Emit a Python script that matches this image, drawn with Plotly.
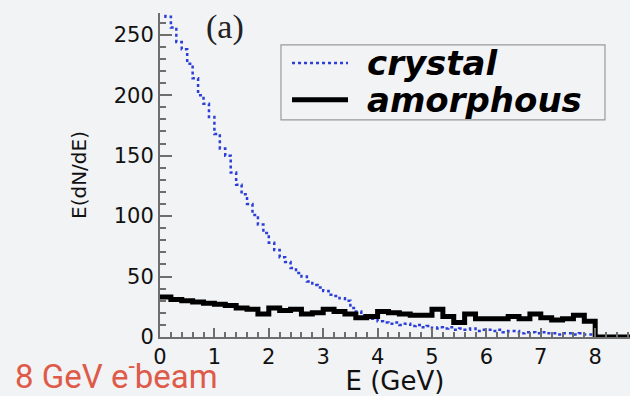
import numpy as np
import plotly.graph_objects as go

# ---- data ----
# amorphous: 0.2 GeV bins from 0 to 8 GeV
amorphous_bin_width = 0.2
amorphous_values = [33, 31, 30, 29, 28, 27, 26, 24, 23, 19,
                    24, 22, 23, 19, 20, 23, 21, 19, 16, 17,
                    21, 20, 19, 18, 18, 23, 17, 12, 19, 15,
                    15, 15, 17, 15, 19, 16, 14, 15, 18, 13]
# crystal: 0.1 GeV bins from 0 to 8 GeV
crystal_bin_width = 0.1
crystal_values = [272, 265, 256, 244, 238, 226, 214, 200, 193, 182,
                  168, 156, 150, 136, 126, 118, 110, 101, 93, 86,
                  78, 72, 66, 62, 57, 53, 50, 46, 43, 41,
                  38, 35, 34, 32, 30, 24, 21, 18, 16, 15,
                  13, 12, 11, 12, 10, 11, 9, 10, 8, 9,
                  7, 8, 7, 8, 6, 7, 6, 7, 5, 6,
                  6, 5, 6, 4, 5, 5, 3, 4, 4, 3,
                  4, 3, 3, 2, 3, 3, 2, 3, 2, 2]
series_names = ["crystal", "amorphous"]
x_range = [0, 8.64]
y_range = [0, 268]
x_tick_step, x_minor_step = 1, 0.2
y_tick_step, y_minor_step = 50, 10


def step_xy(values, width, x_end):
    edges = list(np.arange(len(values)) * width) + [len(values) * width, x_end]
    ys = list(values) + [0, 0]
    return edges, ys


cx, cy = step_xy(crystal_values, crystal_bin_width, x_range[1] + 1)
ax_, ay = step_xy(amorphous_values, amorphous_bin_width, x_range[1] + 1)

BG = "#f2f3f5"
AXC = "#6e6e6e"
crystal_line = dict(shape="hv", color="#2b3fd8", width=2.5, dash="dot")
amorph_line = dict(shape="hv", color="#000000", width=5)

fig = go.Figure()
fig.add_trace(go.Scatter(x=cx, y=cy, mode="lines", name=series_names[0],
                         line=crystal_line, showlegend=False))
fig.add_trace(go.Scatter(x=ax_, y=ay, mode="lines", name=series_names[1],
                         line=amorph_line, showlegend=False))

fig.update_layout(
    width=630, height=396,
    margin=dict(l=160, r=0, t=13, b=58.5, autoexpand=False),
    paper_bgcolor=BG, plot_bgcolor=BG,
    font=dict(family="DejaVu Sans", color="#111"),
)
fig.update_xaxes(range=x_range, showgrid=False, zeroline=False, automargin=False,
                 showline=True, linecolor=AXC, linewidth=2,
                 ticks="inside", ticklen=9, tickwidth=2, tickcolor=AXC,
                 dtick=x_tick_step, tick0=0,
                 minor=dict(dtick=x_minor_step, ticks="inside", ticklen=5,
                            tickwidth=1.5, tickcolor=AXC, showgrid=False),
                 tickfont=dict(family="DejaVu Sans", size=21, color="#111"),
                 ticklabelstandoff=0,
                 title=dict(text="E (GeV)", standoff=3,
                            font=dict(family="DejaVu Sans", size=26, color="#111")))
fig.update_yaxes(range=y_range, showgrid=False, zeroline=False, automargin=False,
                 showline=True, linecolor=AXC, linewidth=2,
                 ticks="inside", ticklen=12, tickwidth=2, tickcolor=AXC,
                 dtick=y_tick_step, tick0=0,
                 minor=dict(dtick=y_minor_step, ticks="inside", ticklen=6,
                            tickwidth=1.5, tickcolor=AXC, showgrid=False),
                 tickfont=dict(family="DejaVu Sans", size=21, color="#111"),
                 ticklabelstandoff=0,
                 title=dict(text="E(dN/dE)", standoff=22,
                            font=dict(family="DejaVu Sans", size=20, color="#111")))

# ---- legend box (drawn in paper space, styled like the traces) ----
fig.add_shape(type="rect", xref="paper", yref="paper",
              x0=0.2574, x1=0.9468, y0=0.6703, y1=0.9014,
              line=dict(color="#9a9a9a", width=1.2), fillcolor=BG, layer="above")
legend_rows = [(0.8459, crystal_line), (0.7319, amorph_line)]
for (yy, ln), name in zip(legend_rows, series_names):
    fig.add_shape(type="line", xref="paper", yref="paper",
                  x0=0.2809, x1=0.4, y0=yy, y1=yy, layer="above",
                  line=dict(color=ln["color"], width=ln["width"], dash=ln.get("dash", "solid")))
    fig.add_annotation(text=name, xref="paper", yref="paper", x=0.4362, y=yy,
                       xanchor="left", yanchor="middle", showarrow=False,
                       font=dict(family="DejaVu Sans", size=34, weight="bold",
                                 style="italic", color="#000"))

fig.add_annotation(text="(a)", xref="paper", yref="paper", x=0.138, y=0.957,
                   xanchor="center", yanchor="middle",
                   showarrow=False, font=dict(family="Liberation Serif", size=34, color="#222"))
fig.add_annotation(text="8 GeV e<sup>-</sup>beam", xref="paper", yref="paper",
                   x=-0.313, y=-0.188, xanchor="left", yanchor="bottom",
                   showarrow=False, font=dict(family="Roboto", size=33, color="#de5b49"))

fig.write_html("out.html", config={"displayModeBar": False},
               post_script="document.body.style.margin='0';document.body.style.background='%s';" % BG)
